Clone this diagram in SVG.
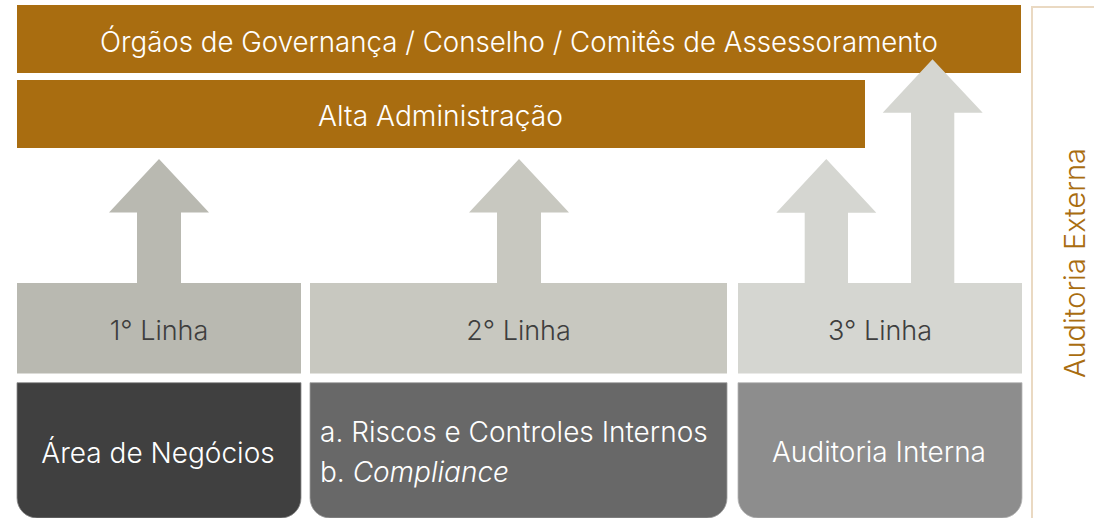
<svg xmlns="http://www.w3.org/2000/svg" width="1094" height="518" viewBox="0 0 1094 518">
<style>
text{font-family:Inter,"Noto Sans","Liberation Sans",sans-serif;font-weight:300}
.gold{fill:#a96d10}
.lbl{fill:#3e3e3e;font-size:27px;text-anchor:middle}
.top{fill:#ffffff;font-size:28px;text-anchor:middle}
.bot{fill:#ffffff;font-size:28px}
</style>
<rect width="1094" height="518" fill="#ffffff"/>
<g id="governanca">
<rect class="gold" x="17" y="5" width="1004" height="68"/>
<text class="top" x="519" y="52" textLength="838" lengthAdjust="spacingAndGlyphs">Órgãos de Governança / Conselho / Comitês de Assessoramento</text>
</g>
<g id="alta-administracao">
<rect class="gold" x="17" y="80" width="848" height="68"/>
<text class="top" x="440.5" y="126" textLength="245" lengthAdjust="spacingAndGlyphs">Alta Administração</text>
</g>
<g id="connectors">
<polygon fill="#b9b9b1" points="159,159 209,212.5 181,212.5 181,284 137,284 137,212.5 109,212.5"/>
<polygon fill="#c8c8c0" points="519,159 569,212.5 541,212.5 541,284 497,284 497,212.5 469,212.5"/>
<polygon fill="#d5d6d1" points="826.3,159 876.3,212.7 848,212.7 848,284 804.7,284 804.7,212.7 776.3,212.7"/>
<polygon fill="#d5d6d1" points="932.5,59.3 982.7,112.7 954.3,112.7 954.3,284 911,284 911,112.7 882.7,112.7"/>
</g>
<g id="linha1">
<rect x="17" y="283" width="284" height="90.5" fill="#b9b9b1"/>
<text class="lbl" x="159" y="339.5">1° Linha</text>
</g>
<g id="linha2">
<rect x="310" y="283" width="417" height="90.5" fill="#c8c8c0"/>
<text class="lbl" x="518.5" y="340">2° Linha</text>
</g>
<g id="linha3">
<rect x="738" y="283" width="284" height="90.5" fill="#d5d6d1"/>
<text class="lbl" x="880" y="340">3° Linha</text>
</g>
<g id="area-negocios">
<path d="M17,382.7 H301 V498 A20,20 0 0 1 281,518 H37 A20,20 0 0 1 17,498 Z" fill="#404040" stroke="#8a8a8a" stroke-width="0.8"/>
<text class="bot" x="158" y="463" text-anchor="middle">Área de Negócios</text>
</g>
<g id="riscos-compliance">
<path d="M310,382.7 H727 V498 A20,20 0 0 1 707,518 H330 A20,20 0 0 1 310,498 Z" fill="#686868" stroke="#a0a0a0" stroke-width="0.8"/>
<text class="bot" x="320" y="442">a. Riscos e Controles Internos</text>
<text class="bot" x="320" y="482">b. <tspan font-style="italic">Compliance</tspan></text>
</g>
<g id="auditoria-interna">
<path d="M738,382.7 H1022 V498 A20,20 0 0 1 1002,518 H758 A20,20 0 0 1 738,498 Z" fill="#8d8d8d" stroke="#b5b5b5" stroke-width="0.8"/>
<text class="bot" x="879" y="462" text-anchor="middle">Auditoria Interna</text>
</g>
<g id="auditoria-externa">
<path d="M1094,7 H1032 V518" fill="none" stroke="#ead9c2" stroke-width="2"/>
<text x="1085" y="263" transform="rotate(-90 1085 263)" text-anchor="middle" font-size="29" fill="#a96d10">Auditoria Externa</text>
</g>
</svg>
